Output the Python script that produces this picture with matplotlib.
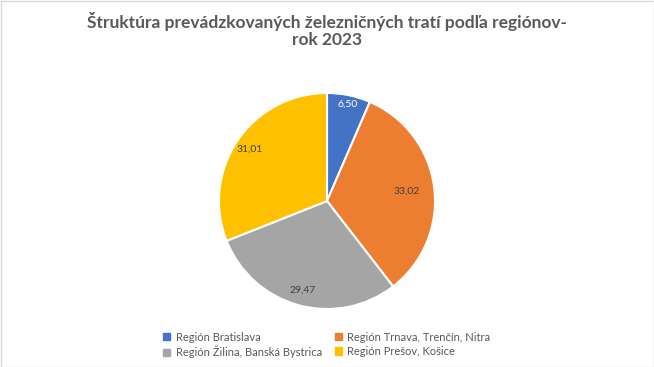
import matplotlib
matplotlib.use("Agg")
import matplotlib.pyplot as plt
from matplotlib.patches import Rectangle
import numpy as np

regions = ["Región Bratislava", "Región Trnava, Trenčín, Nitra",
           "Región Žilina, Banská Bystrica", "Región Prešov, Košice"]
values = [6.50, 33.02, 29.47, 31.01]
colors = ["#4472C4", "#ED7D31", "#A5A5A5", "#FFC000"]
label_colors = ["white", "#404040", "#404040", "#404040"]
label_dist = [0.92, 0.74, 0.86, 0.86]

plt.rcParams["font.family"] = ["Lato", "DejaVu Sans"]

fig = plt.figure(figsize=(6.54, 3.67), dpi=100)
ax = fig.add_axes([0, 0, 1, 1])
ax.set_xlim(0, 654)
ax.set_ylim(367, 0)
ax.axis("off")

# pie in its own square axes, centre (327, 201), radius ~108 px
cx, cy, r = 327, 201, 108
pax = fig.add_axes([(cx - r) / 654, 1 - (cy + r) / 367, 2 * r / 654, 2 * r / 367])
wedges, _ = pax.pie(values, colors=colors, startangle=90, counterclock=False,
                    wedgeprops=dict(edgecolor="white", linewidth=1.5))
pax.set_aspect("equal")
pax.set_xlim(-1, 1)
pax.set_ylim(-1, 1)

for w, v, c, d in zip(wedges, values, label_colors, label_dist):
    ang = np.deg2rad((w.theta1 + w.theta2) / 2)
    pax.text(d * np.cos(ang), d * np.sin(ang), f"{v:.2f}".replace(".", ","),
             ha="center", va="center", fontsize=7.5, color=c)

fig.text(0.5, 1 - 30 / 367, "Štruktúra prevádzkovaných železničných tratí podľa regiónov-\nrok 2023",
         ha="center", va="center", fontsize=12.5, fontweight="bold",
         color="#595959", linespacing=1.1)

# legend is filled row by row in the reference
order = [0, 2, 1, 3]
handles = [Rectangle((0, 0), 1, 1, color=colors[i]) for i in order]
fig.legend(handles, [regions[i] for i in order], loc="center",
           bbox_to_anchor=(0.5, 1 - 345 / 367),
           ncol=2, frameon=False, fontsize=8, labelcolor="#595959",
           handlelength=0.6, handleheight=0.6, handletextpad=0.5,
           columnspacing=1.2, labelspacing=0.3)

ax.add_patch(Rectangle((0.5, 0.5), 653, 366, fill=False, edgecolor="#D9D9D9", lw=1))

fig.savefig("out.png", dpi=100)
